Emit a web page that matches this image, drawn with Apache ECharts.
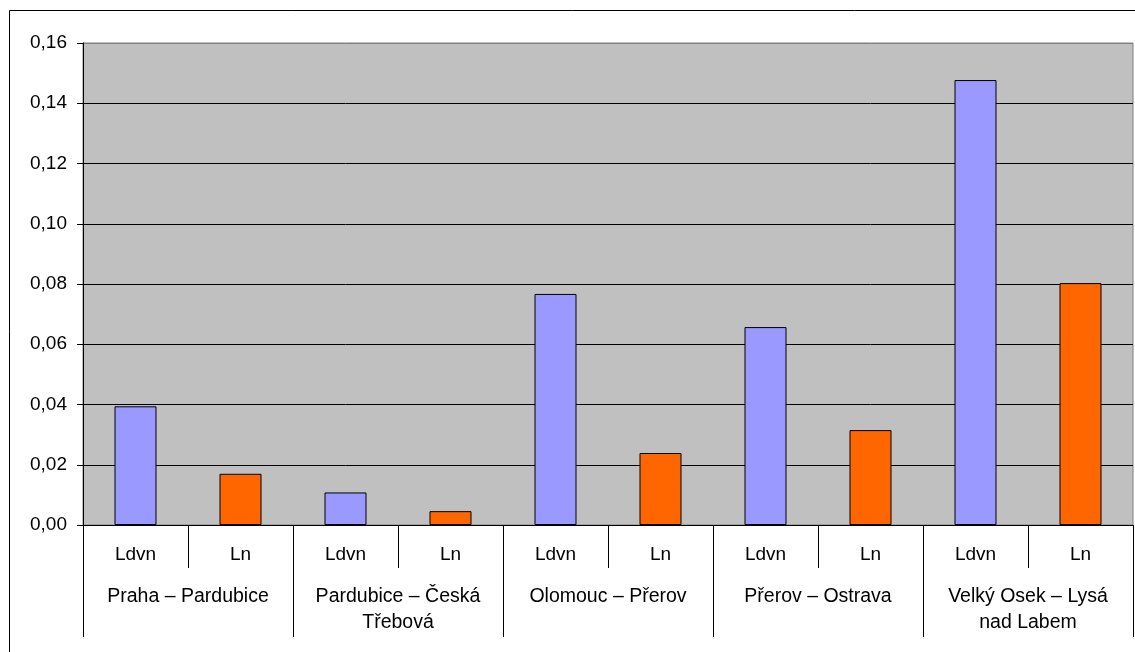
<!DOCTYPE html>
<html>
<head>
<meta charset="utf-8">
<script src="https://cdn.jsdelivr.net/npm/echarts@6/dist/echarts.min.js"></script>
<style>
html,body{margin:0;padding:0;background:#fff;}
#chart{width:1135px;height:652px;}
</style>
</head>
<body>
<div id="chart"></div>
<script>
var groups = ['Praha – Pardubice', 'Pardubice – Česká\nTřebová', 'Olomouc – Přerov', 'Přerov – Ostrava', 'Velký Osek – Lysá\nnad Labem'];
var subLabels = ['Ldvn', 'Ln'];
var ldvn = [0.0394, 0.0108, 0.0767, 0.0657, 0.1477];
var ln = [0.0170, 0.0046, 0.0239, 0.0315, 0.0803];
var yTicks = [0, 0.02, 0.04, 0.06, 0.08, 0.10, 0.12, 0.14, 0.16];

var colLdvn = '#9999FF', colLn = '#FF6600';
var cats = [], barData = [];
for (var i = 0; i < groups.length; i++) {
  cats.push(subLabels[0]); barData.push({value: ldvn[i], itemStyle: {color: colLdvn}});
  cats.push(subLabels[1]); barData.push({value: ln[i], itemStyle: {color: colLn}});
}
var gridColors = yTicks.map(function (t, k) { return k === yTicks.length - 1 ? '#808080' : '#000'; });
var font = 'Liberation Sans, Arial, sans-serif';
var chart = echarts.init(document.getElementById('chart'), null, {renderer: 'canvas'});
chart.setOption({
  animation: false,
  backgroundColor: '#fff',
  textStyle: {fontFamily: font},
  graphic: [{
    type: 'rect', silent: true, z: -10,
    shape: {x: 9.5, y: 10.5, width: 1200, height: 700},
    style: {fill: 'none', stroke: '#000', lineWidth: 1}
  }],
  grid: {
    left: 83, top: 43, right: 2, bottom: 127,
    show: true, backgroundColor: '#C0C0C0', borderColor: '#808080', borderWidth: 1
  },
  xAxis: [{
    type: 'category', data: cats, position: 'bottom', offset: 0,
    axisLine: {show: true, lineStyle: {color: '#000', width: 1}},
    axisTick: {show: true, interval: 0, length: 43, lineStyle: {color: '#000'}},
    axisLabel: {interval: 0, hideOverlap: false, fontSize: 19, color: '#000', margin: 19, fontFamily: font, lineHeight: 22}
  }, {
    type: 'category', data: groups, position: 'bottom', offset: 0, gridIndex: 0,
    axisLine: {show: false},
    axisTick: {show: true, interval: 0, length: 112, lineStyle: {color: '#000'}},
    axisLabel: {interval: 0, hideOverlap: false, fontSize: 19.5, color: '#000', margin: 58, lineHeight: 26.5, fontFamily: font, align: 'center'}
  }],
  yAxis: {
    type: 'value', min: yTicks[0], max: yTicks[yTicks.length - 1], interval: 0.02,
    axisLine: {show: true, lineStyle: {color: '#000'}},
    axisTick: {show: true, length: 6, lineStyle: {color: '#000'}},
    splitLine: {show: true, lineStyle: {color: gridColors, width: 1}},
    axisLabel: {fontSize: 19, color: '#000', margin: 16, fontFamily: font,
      formatter: function (v) { return v.toFixed(2).replace('.', ','); }}
  },
  series: [{
    type: 'bar', xAxisIndex: 0, data: barData, barWidth: '40%',
    itemStyle: {borderColor: '#000', borderWidth: 1}
  }]
});
</script>
</body>
</html>
